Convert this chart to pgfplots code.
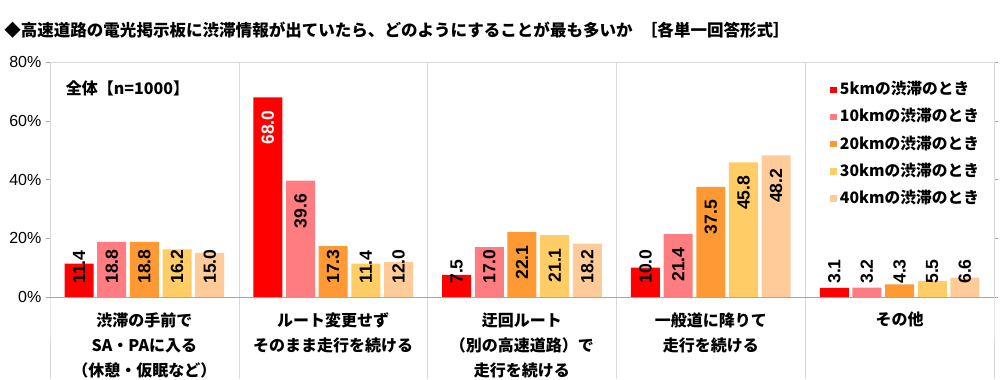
\documentclass[border=0pt]{standalone}
\usepackage{fontspec}
\setmainfont{Liberation Sans}
\newfontfamily\jp{Noto Sans CJK JP}
\usepackage{pgfplots}
\pgfplotsset{compat=1.18}
\usepackage{pgfplotstable}

\definecolor{c1}{HTML}{FF0000}
\definecolor{c2}{HTML}{FF7C80}
\definecolor{c3}{HTML}{FF9933}
\definecolor{c4}{HTML}{FFCC66}
\definecolor{c5}{HTML}{FFCC99}
\definecolor{sepc}{HTML}{D9D9D9}
\definecolor{basec}{HTML}{A6A6A6}

\pgfplotstableread{
x v1 v2 v3 v4 v5
0.5 11.4 18.8 18.8 16.2 15.0
1.5 68.0 39.6 17.3 11.4 12.0
2.5 7.5 17.0 22.1 21.1 18.2
3.5 10.0 21.4 37.5 45.8 48.2
4.5 3.1 3.2 4.3 5.5 6.6
}\data

\begin{document}
\begin{tikzpicture}
\path[use as bounding box] (-37.5pt,-61.5pt) rectangle (712.5pt,222.75pt);
\node[anchor=west, font=\jp\bfseries\fontsize{12.4}{14}\selectfont, inner sep=0pt] at (-34.5pt,200.25pt) {◆高速道路の電光掲示板に渋滞情報が出ていたら、どのようにすることが最も多いか\hspace{0.5em}［各単一回答形式］};
\begin{axis}[
  at={(0pt,0pt)}, anchor=south west,
  scale only axis, width=708pt, height=176.25pt,
  xmin=0, xmax=5, ymin=0, ymax=80,
  ybar=2.75pt, bar width=21.75pt,
  xtick={0.5,1.5,2.5,3.5,4.5},
  xticklabels={{渋滞の手前で\\SA・PAに入る\\（休憩・仮眠など）},{ルート変更せず\\そのまま走行を続ける},{迂回ルート\\（別の高速道路）で\\走行を続ける},{一般道に降りて\\走行を続ける},{その他}},
  xticklabel style={font=\jp\bfseries\fontsize{12}{18.75}\selectfont, align=center, anchor=north, yshift=-5pt},
  xtick style={draw=none},
  ytick={0,20,40,60,80}, yticklabels={0\%,20\%,40\%,60\%,80\%},
  yticklabel style={font=\fontsize{12}{14}\selectfont},
  ytick style={draw=basec}, tick align=outside, major tick length=3pt,
  axis line style={draw=sepc},
  clip=false,
  /pgf/number format/assume math mode=true,
  nodes near coords={\pgfmathprintnumber[fixed,fixed zerofill,precision=1]{\pgfplotspointmeta}},
  visualization depends on={y \as \yv},
  every node near coord/.append style={
    font=\bfseries\fontsize{13.2}{13}\selectfont, inner sep=0pt, text=black,
    /utils/exec={\pgfmathparse{\yv>=19.5 ? 1 : 0}\ifdim\pgfmathresult pt>0.5pt \gdef\lblanchor{east}\gdef\lblshift{-9.75pt}\else\gdef\lblanchor{west}\pgfmathsetmacro\lbltmp{9.75-\yv*2.203125}\xdef\lblshift{\lbltmp pt}\fi},
    anchor=\lblanchor, yshift=\lblshift, rotate=90},
  legend style={at={(rel axis cs:0.822,0.93)}, anchor=north west, draw=none, fill=none,
    font=\jp\bfseries\fontsize{11.8}{12}\selectfont,
    nodes={inner sep=0pt, text height=10pt, text depth=2.5pt}, row sep=7.9pt,
    /tikz/every odd column/.append style={column sep=2.5pt}},
  legend cell align=left,
  legend image code/.code={\fill[#1, draw=none] (0pt,-2.4pt) rectangle (4.8pt,2.4pt);},
]
\addplot[fill=c1, draw=none, every node near coord/.append style={/utils/exec={\pgfmathparse{\yv>=19.5 ? 1 : 0}\ifdim\pgfmathresult pt>0.5pt \gdef\lblcol{white}\else\gdef\lblcol{black}\fi}, text=\lblcol}] table[x=x,y=v1] {\data};
\addplot[fill=c2, draw=none] table[x=x,y=v2] {\data};
\addplot[fill=c3, draw=none] table[x=x,y=v3] {\data};
\addplot[fill=c4, draw=none] table[x=x,y=v4] {\data};
\addplot[fill=c5, draw=none] table[x=x,y=v5] {\data};
\legend{5kmの渋滞のとき,10kmの渋滞のとき,20kmの渋滞のとき,30kmの渋滞のとき,40kmの渋滞のとき}
\pgfplotsinvokeforeach{0,1,2,3,4,5}{\draw[sepc] (axis cs:#1,80) -- (axis cs:#1,0) -- ++(0pt,-61.5pt);}
\draw[basec] (axis cs:0,0) -- (axis cs:5,0);
\node[font=\jp\bfseries\fontsize{12}{12}\selectfont, inner sep=0pt] at (axis cs:0.41,71.1) {全体【n=1000】};
\end{axis}
\end{tikzpicture}
\end{document}
